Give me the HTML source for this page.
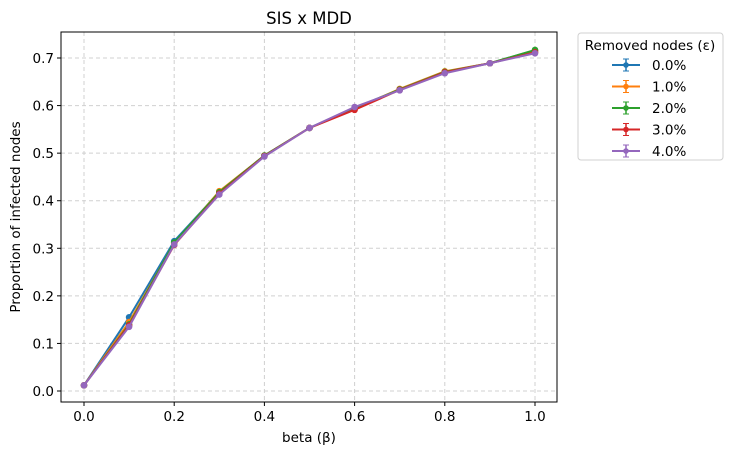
<!DOCTYPE html>
<html><head><meta charset="utf-8"><style>
body{margin:0;background:#fff;font-family:"Liberation Sans","DejaVu Sans",sans-serif}
svg text{font-family:"DejaVu Sans","Liberation Sans",sans-serif}
</style></head><body>
<svg id="c" width="732" height="455" xmlns="http://www.w3.org/2000/svg"></svg>
<script>
const betas=[0,0.1,0.2,0.3,0.4,0.5,0.6,0.7,0.8,0.9,1.0];
const s0=[0.012,0.155,0.315,0.418,0.495,0.553,0.595,0.634,0.671,0.689,0.716];
const s1=[0.012,0.145,0.310,0.420,0.495,0.553,0.593,0.635,0.672,0.689,0.714];
const s2=[0.012,0.140,0.312,0.418,0.495,0.553,0.594,0.634,0.671,0.689,0.717];
const s3=[0.012,0.138,0.307,0.415,0.494,0.553,0.591,0.633,0.670,0.689,0.712];
const s4=[0.012,0.135,0.308,0.413,0.493,0.553,0.597,0.632,0.668,0.689,0.710];
const seriesLabels=["0.0%","1.0%","2.0%","3.0%","4.0%"];
const xTicks=[0,0.2,0.4,0.6,0.8,1.0];
const yTicks=[0,0.1,0.2,0.3,0.4,0.5,0.6,0.7];
const colors=["#1f77b4","#ff7f0e","#2ca02c","#d62728","#9467bd"];
const series=[s0,s1,s2,s3,s4];
const X=v=>84+v*451, Y=v=>391-v*475.7;
const svg=document.getElementById('c');const NS="http://www.w3.org/2000/svg";
function mk(t,a,txt){const e=document.createElementNS(NS,t);for(const k in a)e.setAttribute(k,a[k]);if(txt!=null)e.textContent=txt;svg.appendChild(e);return e;}
const FS=13.5;
xTicks.forEach(t=>{
const g=mk('line',{x1:X(t),x2:X(t),y1:32,y2:402,stroke:'#d0d0d0','stroke-dasharray':'4,3'});


mk('line',{x1:X(t),x2:X(t),y1:402,y2:406,stroke:'#000'});
const l=mk('text',{x:X(t),y:421,'text-anchor':'middle','font-size':FS},t.toFixed(1));


});
yTicks.forEach(t=>{
const g=mk('line',{x1:61,x2:557,y1:Y(t),y2:Y(t),stroke:'#d0d0d0','stroke-dasharray':'4,3'});


mk('line',{x1:57,x2:61,y1:Y(t),y2:Y(t),stroke:'#000'});
const l=mk('text',{x:54,y:Y(t)+5,'text-anchor':'end','font-size':FS},t.toFixed(1));


});
series.forEach((s,i)=>{
const p=mk('polyline',{points:s.map((v,j)=>X(betas[j])+','+Y(v)).join(' '),fill:'none',stroke:colors[i],'stroke-width':2});


s.forEach((v,j)=>{
const c=mk('circle',{cx:X(betas[j]),cy:Y(v),r:3.3,fill:colors[i]});


});
});
const f=mk('rect',{x:61,y:32,width:496,height:370,fill:'none',stroke:'#000','stroke-width':1});


const ti=mk('text',{x:309,y:24,'text-anchor':'middle','font-size':16.5},'SIS x MDD');


const xt=mk('text',{x:309,y:442,'text-anchor':'middle','font-size':FS},'beta (β)');


const yt=mk('text',{x:20,y:217,'text-anchor':'middle','font-size':FS,transform:'rotate(-90 20 217)'},'Proportion of infected nodes');


const lb=mk('rect',{x:578,y:33,width:145,height:127,rx:3,fill:'#fff',stroke:'#d0d0d0'});


const lt=mk('text',{x:650,y:50,'text-anchor':'middle','font-size':FS},'Removed nodes (ε)');


seriesLabels.forEach((lab,i)=>{
const y=65+i*21.5;
mk('line',{x1:612,x2:640,y1:y,y2:y,stroke:colors[i],'stroke-width':2});
mk('line',{x1:626,x2:626,y1:y-6,y2:y+6,stroke:colors[i],'stroke-width':1.5});
mk('line',{x1:623,x2:629,y1:y-6,y2:y-6,stroke:colors[i]});
mk('line',{x1:623,x2:629,y1:y+6,y2:y+6,stroke:colors[i]});
mk('circle',{cx:626,cy:y,r:2.8,fill:colors[i]});
const t=mk('text',{x:652,y:y+5,'font-size':FS},lab);


});
</script>
</body></html>
